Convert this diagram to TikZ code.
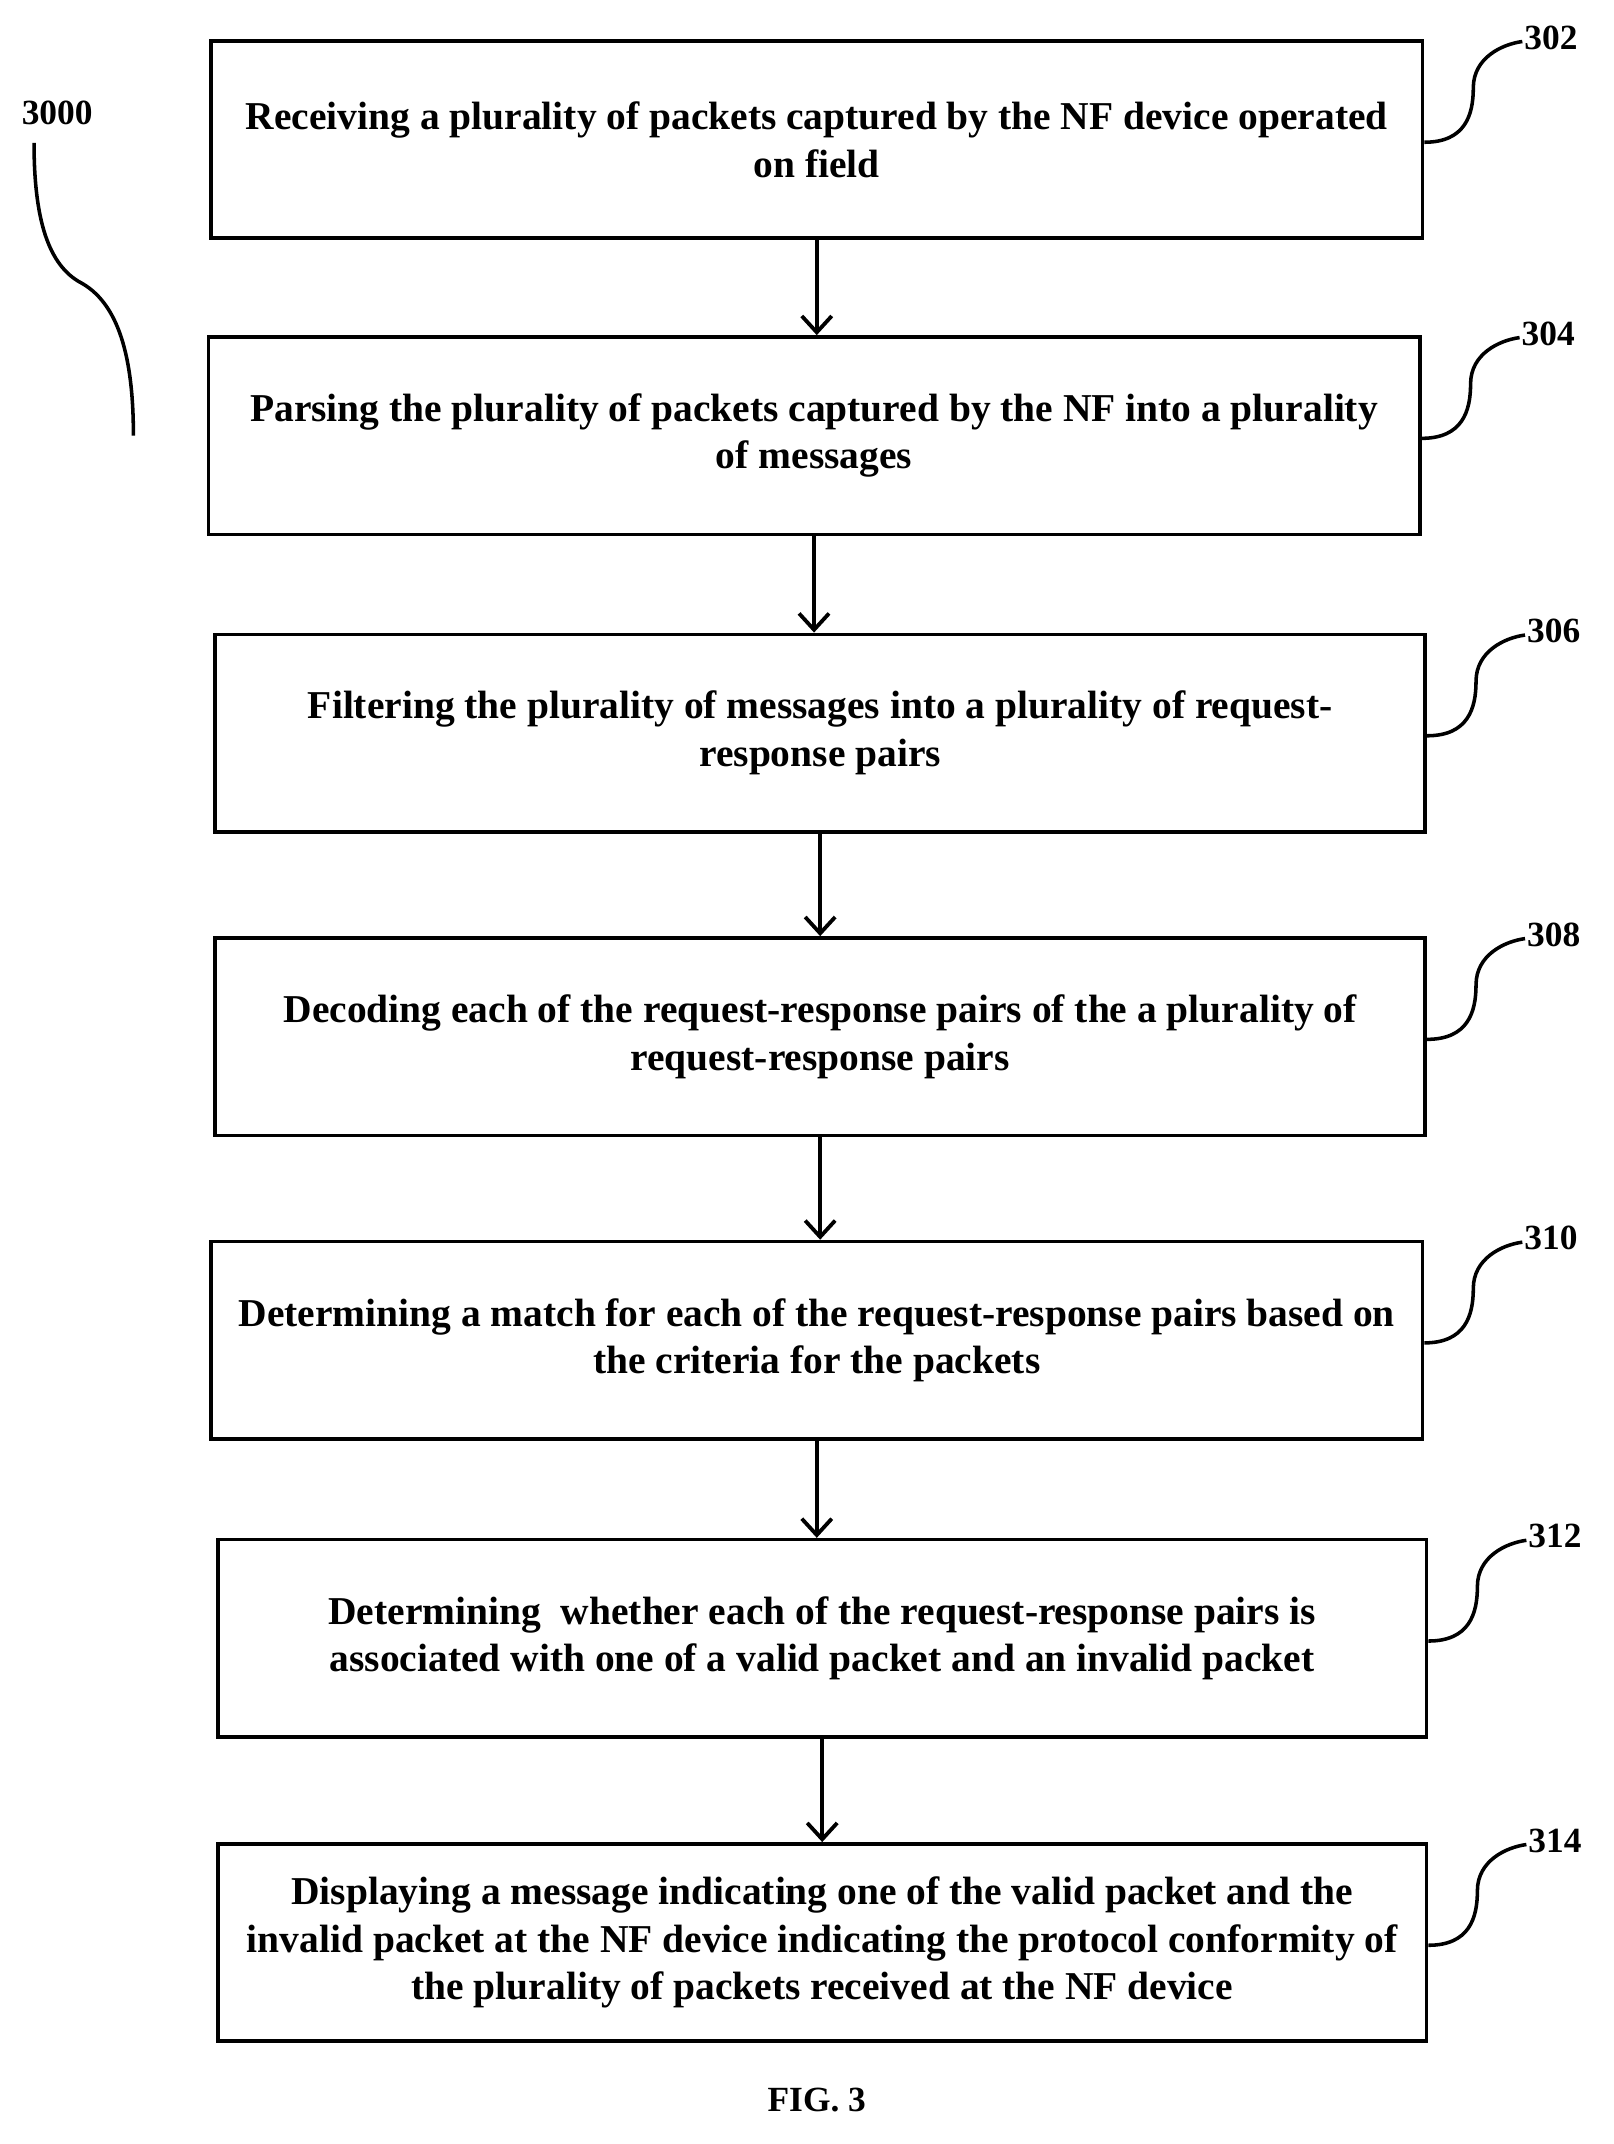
\documentclass[tikz,border=0pt]{standalone}
\usepackage{fontspec}
\setmainfont{Liberation Serif}
\usetikzlibrary{arrows.meta}
\begin{document}
\begin{tikzpicture}[x=1pt,y=-1pt,
  box/.style={draw,line width=2.6pt,minimum width=890pt,minimum height=145pt,align=center,font=\fontsize{29}{35}\selectfont\bfseries,inner sep=0pt},
  arr/.style={line width=2.8pt,-{Straight Barb[length=12pt,width=22pt,line width=2.8pt]}},
  lead/.style={line width=2.6pt},
  num/.style={font=\fontsize{26}{28}\selectfont\bfseries,anchor=west}]
\useasboundingbox (0,0) rectangle (1185,1575);
\node[box] (b1) at (600,102.5) {Receiving a plurality of packets captured by the NF device operated\\on field};
\node[box] (b2) at (598,320) {Parsing the plurality of packets captured by the NF into a plurality\\of messages};
\node[box,minimum width=889pt] (b3) at (602.5,538.5) {Filtering the plurality of messages into a plurality of request-\\response pairs};
\node[box,minimum width=889pt] (b4) at (602.5,761.5) {Decoding each of the request-response pairs of the a plurality of\\request-response pairs};
\node[box] (b5) at (600,984.5) {Determining a match for each of the request-response pairs based on\\the criteria for the packets};
\node[box,minimum width=888pt] (b6) at (604,1203.5) {Determining\ \ whether each of the request-response pairs is\\associated with one of a valid packet and an invalid packet};
\node[box,minimum width=888pt] (b7) at (604,1427) {Displaying a message indicating one of the valid packet and the\\invalid packet at the NF device indicating the protocol conformity of\\the plurality of packets received at the NF device};
\foreach \a/\b in {b1/b2,b2/b3,b3/b4,b4/b5,b5/b6,b6/b7}
  \draw[arr] (\a.south) -- (\a.south |- \b.north);
\foreach \b/\n in {b1/302,b2/304,b3/306,b4/308,b5/310,b6/312,b7/314}{
  \coordinate (e\n) at ([shift={(72,-72)}]\b.east);
  \draw[lead] ([yshift=-2pt]\b.east) .. controls +(30,0) and +(0,20) .. ([shift={(36,-38)}]\b.east) .. controls +(0,-22) and +(-15,2) .. (e\n);
  \node[num] (n\n) at ([shift={(-2,-3)}]e\n) {\n};
}
\node[font=\fontsize{26}{28}\selectfont\bfseries] (n3000) at (42,83) {3000};
\coordinate (e3000) at (98,320);
\draw[lead] (25,105) .. controls (25,160) and (35,195) .. (60,208) .. controls (90,225) and (98,270) .. (e3000);
\node[font=\fontsize{26}{28}\selectfont\bfseries] (fig) at (600,1543) {FIG. 3};
\end{tikzpicture}
\end{document}
